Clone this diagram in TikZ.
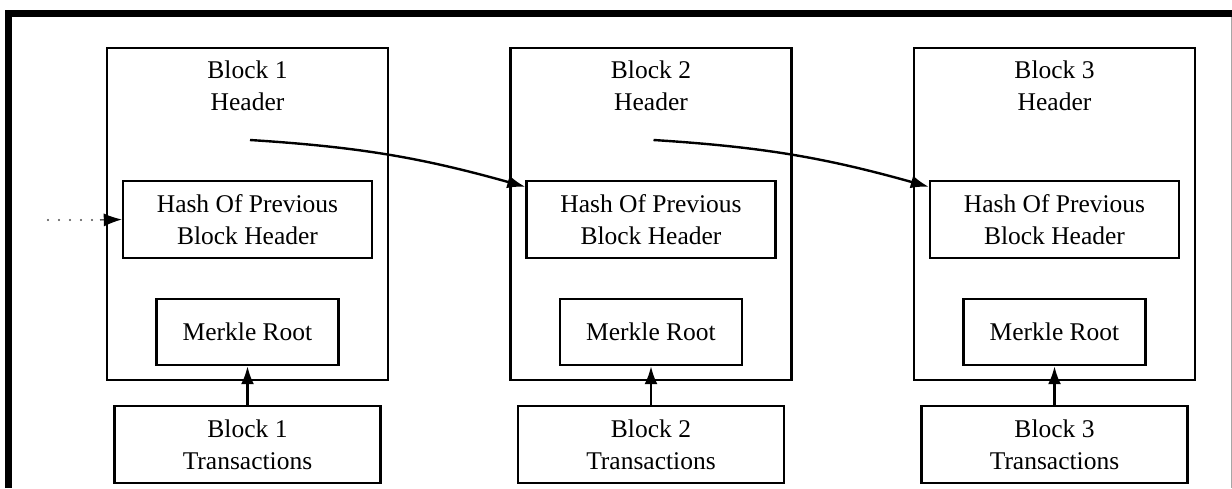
\documentclass[tikz,border=0pt]{standalone}
\usepackage{fontspec}
\setmainfont{Liberation Serif}
\usetikzlibrary{arrows.meta}

\tikzset{
    blockbox/.style={draw=black, line width=2.4pt, minimum width=281pt, minimum height=332pt, inner sep=0pt},
    innerbox/.style={draw=black, line width=2.4pt, align=center, inner sep=0pt},
    linkarrow/.style={-{Latex[length=18pt,width=13pt]}, line width=2.4pt},
    dotline/.style={dash pattern=on 0pt off 11pt, line cap=round, line width=2.4pt, black!70}
}

\begin{document}
\begin{tikzpicture}[x=1pt, y=-1pt, font=\fontsize{25.5}{32}\selectfont]
    \useasboundingbox (0,0) rectangle (1232,488);
    % screenshot frame
    \draw[line width=7pt] (8.5,488) -- (8.5,13.5) -- (1232,13.5);
    \draw[black!35, line width=1pt] (1231,17) -- (1231,488);

    \foreach \i in {1,2,3} {
        \pgfmathsetmacro{\cx}{247.5+403.5*(\i-1)}
        \node[blockbox] (blk\i) at (\cx,214) {};
        \node[align=center, inner sep=0pt] (head\i) at (\cx,86) {Block \i\\Header};
        \node[innerbox, minimum width=249pt, minimum height=77pt] (hash\i) at (\cx,219.5) {Hash Of Previous\\Block Header};
        \node[innerbox, minimum width=182pt, minimum height=66pt] (merkle\i) at (\cx,332) {Merkle Root};
        \node[innerbox, minimum width=266pt, minimum height=77pt] (trans\i) at (\cx,444.5) {Block \i\\Transactions};
        \coordinate (tail\i) at (\cx+2.5,140);
        \draw[linkarrow] (trans\i) -- (merkle\i);
    }

    % links between headers
    \coordinate (prevblk) at (48,220);
    \coordinate (prevtip) at (100,220);
    \draw[dotline] (prevblk) -- (prevtip);
    \draw[linkarrow, line width=1pt] (prevtip) -- (hash1.west);
    \draw[linkarrow] (tail1) to[bend left=6] ([yshift=-7pt]hash2.north west);
    \draw[linkarrow] (tail2) to[bend left=6] ([yshift=-7pt]hash3.north west);
\end{tikzpicture}
\end{document}
